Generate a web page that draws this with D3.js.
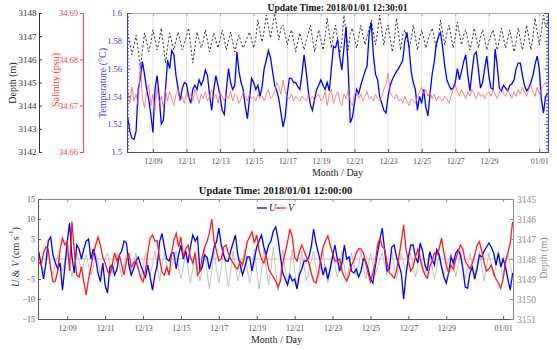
<!DOCTYPE html>
<html><head><meta charset="utf-8">
<script src="https://cdn.jsdelivr.net/npm/d3@7"></script>
<style>
body{margin:0;background:#fff;}
svg text{font-family:"Liberation Serif","Times New Roman",serif;}
</style></head><body>
<svg id="chart" width="557" height="350"></svg>
<script>
// ---- sampling: 3-hourly records starting 2017-12-07 12:00 ----
const startUTC = Date.UTC(2017, 11, 7, 12, 0);
const stepHours = 3;

// ---- mooring CTD (upper panel) ----
const temperature = [
1.525,1.515,1.510,1.509,1.515,1.545,1.553,1.565,1.556,1.545,
1.538,1.527,1.514,1.545,1.555,1.540,1.520,1.523,1.545,1.566,
1.560,1.573,1.570,1.555,1.546,1.537,1.546,1.550,1.549,1.540,
1.535,1.545,1.548,1.545,1.552,1.548,1.552,1.559,1.555,1.541,
1.530,1.545,1.555,1.548,1.540,1.530,1.527,1.545,1.560,1.550,
1.545,1.548,1.572,1.558,1.550,1.545,1.533,1.524,1.538,1.553,
1.550,1.545,1.548,1.540,1.547,1.560,1.566,1.573,1.568,1.558,
1.548,1.544,1.538,1.528,1.518,1.525,1.542,1.553,1.553,1.550,
1.550,1.547,1.545,1.556,1.570,1.558,1.544,1.534,1.530,1.538,
1.545,1.548,1.552,1.548,1.545,1.550,1.544,1.560,1.576,1.575,
1.581,1.568,1.559,1.575,1.590,1.560,1.521,1.525,1.535,1.545,
1.542,1.548,1.553,1.558,1.562,1.585,1.593,1.570,1.556,1.552,
1.540,1.535,1.530,1.528,1.540,1.548,1.552,1.555,1.558,1.560,
1.563,1.566,1.580,1.586,1.575,1.558,1.550,1.545,1.530,1.540,
1.535,1.545,1.532,1.526,1.542,1.556,1.565,1.578,1.583,1.586,
1.575,1.562,1.552,1.548,1.545,1.546,1.550,1.560,1.552,1.558,
1.565,1.570,1.555,1.544,1.558,1.570,1.572,1.560,1.546,1.550,
1.560,1.569,1.555,1.546,1.545,1.574,1.562,1.546,1.544,1.548,
1.546,1.544,1.548,1.549,1.552,1.560,1.564,1.564,1.555,1.548,
1.544,1.546,1.550,1.555,1.563,1.569,1.560,1.538,1.528,1.540,
1.542];

const salinity = [
34.6735,34.6705,34.6740,34.6710,34.6725,34.6700,34.6790,34.6715,34.6695,34.6730,
34.6745,34.6700,34.6725,34.6690,34.6740,34.6705,34.6720,34.6695,34.6735,34.6710,
34.6730,34.6715,34.6700,34.6725,34.6735,34.6710,34.6720,34.6705,34.6730,34.6715,
34.6725,34.6710,34.6735,34.6720,34.6705,34.6725,34.6715,34.6730,34.6710,34.6720,
34.6735,34.6715,34.6725,34.6705,34.6730,34.6720,34.6710,34.6725,34.6715,34.6730,
34.6710,34.6725,34.6720,34.6705,34.6715,34.6730,34.6720,34.6710,34.6725,34.6715,
34.6720,34.6710,34.6725,34.6715,34.6720,34.6710,34.6725,34.6735,34.6715,34.6720,
34.6730,34.6750,34.6740,34.6725,34.6755,34.6730,34.6720,34.6715,34.6725,34.6710,
34.6720,34.6715,34.6710,34.6720,34.6715,34.6710,34.6725,34.6715,34.6720,34.6710,
34.6720,34.6725,34.6710,34.6715,34.6730,34.6700,34.6725,34.6735,34.6705,34.6720,
34.6730,34.6710,34.6700,34.6725,34.6715,34.6735,34.6710,34.6700,34.6725,34.6730,
34.6715,34.6725,34.6710,34.6720,34.6730,34.6715,34.6720,34.6710,34.6725,34.6715,
34.6710,34.6720,34.6735,34.6745,34.6770,34.6730,34.6720,34.6715,34.6725,34.6710,
34.6715,34.6705,34.6720,34.6710,34.6700,34.6715,34.6710,34.6705,34.6720,34.6730,
34.6740,34.6725,34.6735,34.6720,34.6730,34.6715,34.6725,34.6710,34.6720,34.6715,
34.6710,34.6720,34.6715,34.6705,34.6720,34.6735,34.6745,34.6730,34.6720,34.6735,
34.6725,34.6715,34.6730,34.6720,34.6735,34.6725,34.6715,34.6730,34.6720,34.6725,
34.6715,34.6725,34.6730,34.6720,34.6735,34.6725,34.6715,34.6730,34.6740,34.6725,
34.6720,34.6735,34.6725,34.6715,34.6730,34.6720,34.6735,34.6725,34.6740,34.6730,
34.6720,34.6735,34.6745,34.6730,34.6720,34.6740,34.6725,34.6735,34.6745,34.6750,
34.6740];

const depthCTD = [
3147.14,3146.70,3146.19,3146.60,3147.05,3146.40,3145.63,3146.35,3147.14,3146.75,3146.32,3146.70,3147.27,3146.85,3146.40,3146.80,3147.35,3146.60,3145.84,3146.55,3147.14,3146.75,3146.40,3146.80,3147.18,3146.80,3146.40,3146.70,3147.00,
3147.35,3146.60,3145.84,3146.50,3147.18,3146.85,3146.49,3146.80,3147.27,3146.80,3146.32,3146.75,3147.14,3146.80,3146.49,3146.85,3147.27,3146.85,3146.40,3146.80,3147.18,3146.75,3146.32,3146.70,3147.05,3146.75,3146.49,3146.70,3146.95,
3147.18,3146.85,3146.49,3146.90,3147.70,3147.20,3146.75,3147.25,3147.91,3147.40,3146.92,3147.45,3148.00,3147.40,3146.83,3147.35,3147.48,3147.05,3146.62,3147.00,3147.27,3146.80,3146.32,3146.75,3147.14,3146.75,3146.40,3146.80,3147.10,
3147.48,3146.90,3146.32,3146.85,3147.27,3146.85,3146.40,3146.95,3147.78,3147.10,3146.49,3147.05,3147.48,3146.85,3146.19,3146.80,3147.91,3147.15,3146.40,3147.10,3147.35,3146.90,3146.49,3146.95,3147.48,3147.05,3146.62,3147.00,3147.35,
3147.70,3147.15,3146.62,3147.20,3147.91,3147.25,3146.62,3147.20,3147.48,3146.90,3146.32,3146.85,3147.78,3147.10,3146.40,3147.05,3147.27,3146.90,3146.49,3146.85,3147.48,3146.95,3146.40,3146.90,3147.27,3146.90,3146.49,3146.85,3147.10,
3147.35,3146.90,3146.49,3146.95,3147.70,3147.15,3146.62,3147.10,3147.48,3147.00,3146.49,3146.95,3147.61,3147.10,3146.62,3147.05,3147.27,3146.85,3146.40,3146.80,3147.35,3146.90,3146.49,3146.95,3147.27,3146.85,3146.40,3146.80,3147.05,
3147.27,3146.85,3146.40,3146.85,3147.35,3146.90,3146.49,3146.90,3147.27,3146.80,3146.32,3146.80,3147.35,3146.85,3146.40,3146.90,3147.48,3146.95,3146.40,3146.95,3147.78,3147.20,3146.62,3147.20,3147.91,3147.40,3147.60];

// ---- current meter (lower panel), cm/s ----
const velU = [
1.8,-1.5,-5,-1,4.5,5.5,1,-1,-2.5,-1,
-7.8,-2,4.3,9,0.5,-3.5,3.5,2.5,0,2.5,
4.5,5,0,2.5,0,-3.5,-5.7,-1,-6.5,-8.5,
-2,-1.5,-4,-2.5,1,2,4.5,4,-1.5,-4,
-2.5,-0.5,0.5,-1.5,-3,-4.8,-1.5,-4.5,-7.8,-4,
-1.5,4.3,6.4,3,0,-0.5,1.5,1.5,-2.5,1,
3.5,0,2,-1,3,6,4.5,5.5,-3,-2,
1,0.5,-2.5,0,3,4.3,7.7,3.5,1,-0.5,
-0.5,2,4,6,1,-1.5,-4,-2,0.5,0.5,
-3,0,3,4.5,6,3,1,3.5,4.5,7,
8,5,0.5,-3.5,-5,-6.5,-4,-5.5,-5,-7.5,
-4,-2.5,-0.5,-0.5,0.5,3,7.5,4,1.5,-1,
-4,-2,-5,-2.5,0.5,3.5,0,-3,-1,3.5,
0,0.5,-3,-3.5,-2.5,-4.5,-3,0,-0.5,-2.5,
-5,-6,-2,1.5,5,7.7,2,-3,-2.5,3,
3.5,0.5,-1.5,-3.5,-10,-4,0.5,3.5,3.5,0.5,
-1,4,2,-1.5,-3,1.8,0,-1.5,2.3,1,
-2,-4.5,-6,-3.5,0.5,-1,1.5,2.3,1,-2.5,
-7,-7.3,-3.5,-2,-5,-2.5,1,0.5,2,3,
4,3,1.5,-1.5,1.5,-2,0,-2,-5,-7.8,
-3.5];

const velV = [
-0.7,-1.5,1.5,3,2.5,-2.5,-5.7,-5.5,-3,2.5,
5.2,3.5,4.5,-3,9.3,2,-4,-4.5,-2,-5.7,
-9,-5,-2,1,3.5,5.5,3.5,0.5,-1,-3,
-4,-1.5,1.5,-0.5,1,-1.5,-4,-0.5,1.5,-2,
-1,-0.5,-2.5,-4.5,-5.7,-3,1.5,5.2,6,4.5,
4.5,0,-3.2,-4,-2,-4,1,4.7,6.4,3,
5.5,0.5,2.5,3.5,0.5,-1,1.5,-4,-3,0.5,
3,4.3,6.4,10,4.5,2,-0.5,0,3,3.5,
1.5,0,-1,-2,-2.5,-0.5,-1.5,1,4.3,5.5,
6.8,4,6,2,0,-1,1,-2.5,-3.5,-4.5,
-5.5,-7,-5.5,-1,1.5,4.3,7.5,5.5,0.5,-0.5,
1.8,3.5,2,0.5,-1,-3.5,-5.5,-6,-3.5,0,
3,4.5,5.8,3.5,1.5,-0.5,-0.5,0,-3,-4.5,
-5.5,-4,-1.5,-0.5,1.5,2.5,2.5,1.5,-1,-3.5,
-5.7,-3.5,-1,3.5,5.2,3,2.5,-1,-3.5,-4,
-4.8,-3,0.5,4.3,8.5,2.5,-0.5,-3,-2,0.5,
2.5,0,-2.5,-4,-4.8,-2,-0.5,1.5,1,2.5,
5.2,1.5,-1.5,-3.5,-1.5,-2.5,0,1.8,3.5,2.5,
-0.5,-1.5,-2.5,-1,1,3.5,4.3,2,-1,-3,
-2.5,-1.5,-3.5,-5,-6,-7.3,-5,-0.5,1.5,4,
9.3];

const depthADCP = [
3147.8,3148.2,3148.7,3148.3,3147.7,3148.3,3148.8,3148.2,3147.8,3148.2,3148.6,3148.1,3147.7,3148.3,3148.9,3148.3,3147.7,3148.1,3148.6,3148.2,3147.8,3148.3,3148.8,3148.4,3147.7,3148.2,3148.7,3148.4,3148.0,
3147.7,3148.3,3148.7,3148.2,3147.7,3148.3,3148.9,3148.3,3147.8,3148.2,3148.6,3148.2,3147.7,3148.4,3149.0,3148.4,3147.7,3148.3,3148.8,3148.3,3147.6,3148.4,3149.1,3148.4,3147.7,3148.3,3148.8,3148.5,3148.0,
3147.6,3148.4,3149.0,3148.4,3147.6,3148.5,3149.2,3148.5,3147.6,3148.4,3149.1,3148.4,3147.5,3148.6,3149.5,3148.6,3147.6,3148.5,3149.2,3148.5,3147.5,3148.5,3149.4,3148.6,3147.6,3148.4,3149.1,3148.6,3148.1,
3147.5,3148.5,3149.2,3148.5,3147.5,3148.6,3149.5,3148.6,3147.5,3148.5,3149.3,3148.5,3147.4,3148.6,3149.6,3148.7,3147.5,3148.5,3149.2,3148.5,3147.5,3148.6,3149.4,3148.6,3147.6,3148.4,3149.1,3148.6,3148.1,
3147.6,3148.4,3149.0,3148.4,3147.6,3148.5,3149.2,3148.4,3147.7,3148.3,3148.9,3148.3,3147.6,3148.4,3149.1,3148.4,3147.7,3148.3,3148.8,3148.3,3147.6,3148.4,3149.0,3148.4,3147.7,3148.3,3148.8,3148.4,3148.0,
3147.7,3148.3,3148.8,3148.3,3147.6,3148.4,3149.0,3148.4,3147.7,3148.2,3148.7,3148.2,3147.7,3148.3,3148.9,3148.3,3147.7,3148.3,3148.8,3148.3,3147.6,3148.4,3149.0,3148.4,3147.7,3148.3,3148.8,3148.4,3148.0,
3147.7,3148.3,3148.9,3148.3,3147.6,3148.4,3149.0,3148.4,3147.7,3148.3,3148.8,3148.3,3147.6,3148.4,3149.1,3148.4,3147.7,3148.3,3148.9,3148.3,3147.6,3148.4,3149.0,3148.4,3147.7,3148.3,3148.8];

// ---- axis ticks ----
const dateTicks = ["2017-12-09","2017-12-11","2017-12-13","2017-12-15","2017-12-17","2017-12-19",
                   "2017-12-21","2017-12-23","2017-12-25","2017-12-27","2017-12-29","2018-01-01"];
const tempTicks = [1.5,1.52,1.54,1.56,1.58,1.6];
const salTicks = [34.66,34.67,34.68,34.69];
const depthTopTicks = [3142,3143,3144,3145,3146,3147,3148];
const velTicks = [-15,-10,-5,0,5,10,15];
const depthBotTicks = [3145,3146,3147,3148,3149,3150,3151];

// ---- colours ----
const BLUE = "#0000ff", BLUE_AX = "#3a3ae6", RED = "#ff1a1a", RED_AX = "#e84040",
      SAL = "#f26a6a", GREY = "#b4b4b4", AX = "#333";

const parseDay = d3.utcParse("%Y-%m-%d");
const tickDates = dateTicks.map(parseDay);
const fmtDay = d3.utcFormat("%m/%d");
const times = temperature.map((_, i) => new Date(startUTC + i * stepHours * 3600e3));
const tDomain = [new Date(Date.UTC(2017, 11, 7, 11, 0)), new Date(Date.UTC(2018, 0, 1, 12, 30))];

const svg = d3.select("#chart");

function paint(g, color, fs) {
  g.select(".domain").attr("stroke", color);
  g.selectAll(".tick line").attr("stroke", color);
  g.selectAll(".tick text").attr("fill", color).attr("font-size", fs)
    .attr("font-family", '"Liberation Serif","Times New Roman",serif');
  return g;
}
function vlabel(x, y, txt, color, fs) {
  return svg.append("text").attr("transform", `translate(${x},${y}) rotate(-90)`)
    .attr("text-anchor", "middle").attr("dominant-baseline", "central")
    .attr("font-size", fs).attr("fill", color).text(txt);
}
function minorTicks(lo, hi, step, majors) {
  const out = [];
  for (let v = lo; v <= hi + 1e-9; v += step) {
    const r = +v.toFixed(4);
    if (!majors.some(m => Math.abs(m - r) < 1e-6)) out.push(r);
  }
  return out;
}

// ================= upper panel =================
const T = {l: 127, r: 548, t: 13, b: 152};
const xT = d3.scaleUtc().domain(tDomain).range([T.l, T.r]);
const yTemp = d3.scaleLinear().domain([1.5, 1.6]).range([T.b, T.t]);
const ySal = d3.scaleLinear().domain([34.66, 34.69]).range([T.b, T.t]);
const yDep = d3.scaleLinear().domain([3142, 3148]).range([T.b, T.t]);

// vertical grid
svg.append("g").selectAll("line").data(tickDates).join("line")
  .attr("x1", d => xT(d)).attr("x2", d => xT(d)).attr("y1", T.t).attr("y2", T.b)
  .attr("stroke", "#e2e2e2").attr("stroke-width", 1);

svg.append("clipPath").attr("id", "clipT").append("rect")
  .attr("x", T.l).attr("y", T.t - 1).attr("width", T.r - T.l).attr("height", T.b - T.t + 2);

const plotT = svg.append("g").attr("clip-path", "url(#clipT)");
plotT.append("path").datum(depthCTD)
  .attr("d", d3.line().x((d, i) => xT(times[i])).y(d => yDep(d)))
  .attr("fill", "none").attr("stroke", "#222").attr("stroke-width", 0.9).attr("stroke-dasharray", "2.2,2");
plotT.append("path").datum(temperature)
  .attr("d", d3.line().x((d, i) => xT(times[i])).y(d => yTemp(d)))
  .attr("fill", "none").attr("stroke", BLUE).attr("stroke-width", 1.3);
plotT.append("path").datum(salinity)
  .attr("d", d3.line().x((d, i) => xT(times[i])).y(d => ySal(d)))
  .attr("fill", "none").attr("stroke", SAL).attr("stroke-width", 0.8);

// box edges and date axis
paint(svg.append("g").attr("transform", `translate(0,${T.b})`)
  .call(d3.axisBottom(xT).tickValues(tickDates).tickFormat(fmtDay).tickSize(-3).tickPadding(6)), "#555", 8);
paint(svg.append("g").attr("transform", `translate(0,${T.t})`)
  .call(d3.axisTop(xT).tickValues(tickDates).tickFormat("").tickSize(-3)), "#aaa", 8);

// temperature axis (left of box) with minor ticks
const tMinor = minorTicks(1.5, 1.6, 0.0025, tempTicks);
paint(svg.append("g").attr("transform", `translate(${T.l},0)`)
  .call(d3.axisLeft(yTemp).tickValues(tMinor).tickFormat("").tickSize(-2)), BLUE_AX, 8);
paint(svg.append("g").attr("transform", `translate(${T.l},0)`)
  .call(d3.axisLeft(yTemp).tickValues(tempTicks).tickFormat(d3.format("~g")).tickSize(-3.5).tickPadding(5)), BLUE_AX, 8.5);
paint(svg.append("g").attr("transform", `translate(${T.r},0)`)
  .call(d3.axisRight(yTemp).tickValues(tMinor).tickFormat("").tickSize(-2)), BLUE_AX, 8);
paint(svg.append("g").attr("transform", `translate(${T.r},0)`)
  .call(d3.axisRight(yTemp).tickValues(tempTicks).tickFormat("").tickSize(-3.5)), BLUE_AX, 8);

// salinity axis
paint(svg.append("g").attr("transform", "translate(83,0)")
  .call(d3.axisLeft(ySal).tickValues(salTicks).tickFormat(d3.format(".2f")).tickSize(3).tickPadding(2)), RED_AX, 8.5);

// depth axis
paint(svg.append("g").attr("transform", "translate(39,0)")
  .call(d3.axisLeft(yDep).tickValues(depthTopTicks).tickFormat(d3.format("d")).tickSize(-3).tickPadding(2.5)), AX, 9);

vlabel(12, 83, "Depth (m)", "#222", 10);
vlabel(55, 80, "Salinity (psu)", RED_AX, 10);
vlabel(102, 83, "Temperature (°C)", BLUE_AX, 10);

svg.append("text").attr("x", (T.l + T.r) / 2).attr("y", 10.5).attr("text-anchor", "middle")
  .attr("font-size", 9.6).attr("font-weight", "bold").attr("fill", "#111")
  .text("Update Time: 2018/01/01 12:30:01");
svg.append("text").attr("x", (T.l + T.r) / 2).attr("y", 176).attr("text-anchor", "middle")
  .attr("font-size", 10).attr("fill", "#222").text("Month / Day");

// ================= lower panel =================
const B = {l: 38, r: 513, t: 199, b: 319};
const xB = d3.scaleUtc().domain(tDomain).range([B.l, B.r]);
const yVel = d3.scaleLinear().domain([-15, 15]).range([B.b, B.t]);
const yDepB = d3.scaleLinear().domain([3145, 3151]).range([B.t, B.b]);

svg.append("clipPath").attr("id", "clipB").append("rect")
  .attr("x", B.l).attr("y", B.t).attr("width", B.r - B.l).attr("height", B.b - B.t);
const plotB = svg.append("g").attr("clip-path", "url(#clipB)");

plotB.append("line").attr("x1", B.l).attr("x2", B.r).attr("y1", yVel(0)).attr("y2", yVel(0))
  .attr("stroke", "#c4c4c4").attr("stroke-width", 1);
plotB.append("path").datum(depthADCP)
  .attr("d", d3.line().x((d, i) => xB(times[i])).y(d => yDepB(d)))
  .attr("fill", "none").attr("stroke", GREY).attr("stroke-width", 0.8);
plotB.append("path").datum(velU)
  .attr("d", d3.line().x((d, i) => xB(times[i])).y(d => yVel(d)))
  .attr("fill", "none").attr("stroke", BLUE).attr("stroke-width", 1.3);
plotB.append("path").datum(velV)
  .attr("d", d3.line().x((d, i) => xB(times[i])).y(d => yVel(d)))
  .attr("fill", "none").attr("stroke", RED).attr("stroke-width", 1.3);

paint(svg.append("g").attr("transform", `translate(0,${B.b})`)
  .call(d3.axisBottom(xB).tickValues(tickDates).tickFormat(fmtDay).tickSize(-3).tickPadding(6)), "#555", 8);
paint(svg.append("g").attr("transform", `translate(0,${B.t})`)
  .call(d3.axisTop(xB).tickValues(tickDates).tickFormat("").tickSize(-3)), "#888", 8);
paint(svg.append("g").attr("transform", `translate(${B.l},0)`)
  .call(d3.axisLeft(yVel).tickValues(velTicks).tickFormat(d3.format("d")).tickSize(-3).tickPadding(3)), "#555", 8);
paint(svg.append("g").attr("transform", `translate(${B.r},0)`)
  .call(d3.axisRight(yDepB).tickValues(depthBotTicks).tickFormat(d3.format("d")).tickSize(-3).tickPadding(4)), "#8c8c8c", 9.5);

// velocity label with italic components and superscript unit
const vl = svg.append("text").attr("transform", `translate(15,257) rotate(-90)`)
  .attr("text-anchor", "middle").attr("dominant-baseline", "central")
  .attr("font-size", 10).attr("fill", "#333");
vl.append("tspan").attr("font-style", "italic").text("U");
vl.append("tspan").text(" & ");
vl.append("tspan").attr("font-style", "italic").text("V");
vl.append("tspan").text(" (cm s");
vl.append("tspan").attr("font-size", 7).attr("dy", -4).text("-1");
vl.append("tspan").attr("dy", 4).text(")");

vlabel(543, 258, "Depth (m)", "#8c8c8c", 10);

// legend
const lg = svg.append("g").attr("transform", "translate(257,208)");
[{c: BLUE, t: "U", x: 0}, {c: RED, t: "V", x: 19}].forEach(e => {
  lg.append("line").attr("x1", e.x).attr("x2", e.x + 10).attr("y1", 0).attr("y2", 0)
    .attr("stroke", e.c).attr("stroke-width", 1.3);
  lg.append("text").attr("x", e.x + 12).attr("y", 3.3).attr("font-size", 10)
    .attr("font-style", "italic").attr("fill", "#222").text(e.t);
});

svg.append("text").attr("x", (B.l + B.r) / 2).attr("y", 194).attr("text-anchor", "middle")
  .attr("font-size", 10.5).attr("font-weight", "bold").attr("fill", "#111")
  .text("Update Time: 2018/01/01 12:00:00");
svg.append("text").attr("x", (B.l + B.r) / 2 + 1).attr("y", 343).attr("text-anchor", "middle")
  .attr("font-size", 10).attr("fill", "#222").text("Month / Day");
</script>
</body></html>
